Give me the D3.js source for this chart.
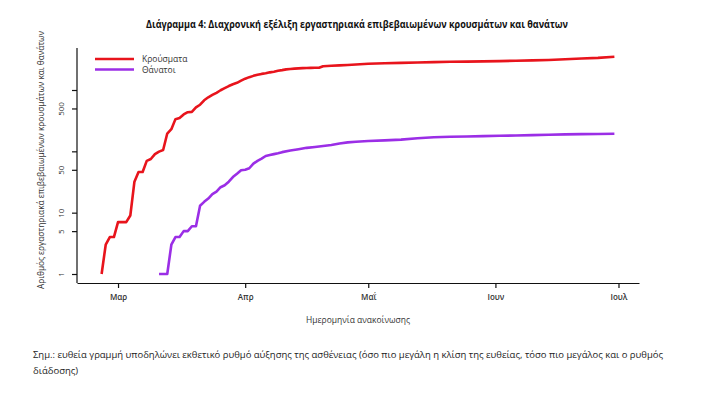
<!DOCTYPE html>
<html><head><meta charset="utf-8">
<script src="https://cdn.jsdelivr.net/npm/d3@7"></script>
<style>
body{margin:0;background:#fff}
svg{display:block}
text{font-family:"Open Sans","DejaVu Sans",sans-serif;fill:#222}
</style>
</head><body>
<svg id="c" width="712" height="394"></svg>
<script>
// ---- data ----
const caseDates = ["2020-02-26","2020-02-27","2020-02-28","2020-02-29","2020-03-01","2020-03-02","2020-03-03","2020-03-04","2020-03-05","2020-03-06","2020-03-07","2020-03-08","2020-03-09","2020-03-10","2020-03-11","2020-03-12","2020-03-13","2020-03-14","2020-03-15","2020-03-16","2020-03-17","2020-03-18","2020-03-19","2020-03-20","2020-03-21","2020-03-22","2020-03-23","2020-03-24","2020-03-25","2020-03-26","2020-03-27","2020-03-28","2020-03-29","2020-03-30","2020-03-31","2020-04-01","2020-04-02","2020-04-03","2020-04-04","2020-04-05","2020-04-06","2020-04-07","2020-04-08","2020-04-09","2020-04-10","2020-04-11","2020-04-12","2020-04-13","2020-04-14","2020-04-15","2020-04-16","2020-04-17","2020-04-18","2020-04-19","2020-04-20","2020-04-22","2020-04-24","2020-04-26","2020-04-28","2020-05-01","2020-05-05","2020-05-09","2020-05-13","2020-05-17","2020-05-21","2020-05-25","2020-05-29","2020-06-02","2020-06-06","2020-06-10","2020-06-14","2020-06-18","2020-06-22","2020-06-26","2020-06-30"];
const caseValues = [1,3,4,4,7,7,7,9,32,46,46,70,75,90,99,105,195,230,335,350,400,435,440,520,575,680,760,830,900,990,1070,1160,1240,1310,1420,1530,1620,1700,1770,1830,1870,1940,1990,2060,2110,2170,2200,2230,2250,2270,2285,2295,2300,2305,2440,2480,2520,2560,2610,2680,2730,2770,2810,2850,2880,2900,2930,2960,3000,3040,3090,3180,3260,3340,3480];
const deathDates = ["2020-03-11","2020-03-12","2020-03-13","2020-03-14","2020-03-15","2020-03-16","2020-03-17","2020-03-18","2020-03-19","2020-03-20","2020-03-21","2020-03-22","2020-03-23","2020-03-24","2020-03-25","2020-03-26","2020-03-27","2020-03-28","2020-03-29","2020-03-30","2020-03-31","2020-04-01","2020-04-02","2020-04-03","2020-04-04","2020-04-05","2020-04-06","2020-04-07","2020-04-08","2020-04-09","2020-04-10","2020-04-12","2020-04-14","2020-04-16","2020-04-18","2020-04-20","2020-04-22","2020-04-24","2020-04-26","2020-04-28","2020-05-01","2020-05-05","2020-05-09","2020-05-13","2020-05-17","2020-05-21","2020-05-25","2020-05-29","2020-06-02","2020-06-06","2020-06-10","2020-06-14","2020-06-18","2020-06-22","2020-06-26","2020-06-30"];
const deathValues = [1,1,1,3,4,4,5,5,6,6,13,15,17,20,22,26,28,32,38,43,49,50,53,63,70,76,84,87,90,93,97,103,108,114,118,122,127,134,140,143,147,151,155,163,170,173,175,177,179,181,184,186,189,191,192,194];
const monthTicks = ["2020-03-01","2020-04-01","2020-05-01","2020-06-01","2020-07-01"];
const monthLabels = ["Μαρ","Απρ","Μαΐ","Ιουν","Ιουλ"];
const yTicks = [1,5,10,50,100,500,1000];
const yTickLabels = ["1","5","10","50","","500",""];
const seriesNames = ["Κρούσματα","Θάνατοι"];
const seriesColors = ["#e8141c","#9b2ee6"];
const titleText = "Διάγραμμα 4: Διαχρονική εξέλιξη εργαστηριακά επιβεβαιωμένων κρουσμάτων και θανάτων";
const xTitle = "Ημερομηνία ανακοίνωσης";
const yTitle = "Αριθμός εργαστηριακά επιβεβαιωμένων κρουσμάτων και θανάτων";
const noteLines = ["Σημ.: ευθεία γραμμή υποδηλώνει εκθετικό ρυθμό αύξησης της ασθένειας (όσο πιο μεγάλη η κλίση της ευθείας, τόσο πιο μεγάλος και ο ρυθμός","διάδοσης)"];

const parse = d3.utcParse("%Y-%m-%d");
const svg = d3.select("#c");

const x = d3.scaleUtc().domain([parse("2020-02-20"), parse("2020-07-06")]).range([77, 639]);
const y = d3.scaleLog().domain([1, 1000]).range([274, 90]);
const plotTop = 48, plotBottom = 283;

// title
svg.append("text").attr("x", 357).attr("y", 28).attr("text-anchor", "middle")
  .attr("font-size", 10.5).attr("font-weight", "bold").attr("textLength", 422).attr("lengthAdjust", "spacingAndGlyphs")
  .style("fill", "#111").text(titleText);

// x axis
const xAxis = d3.axisBottom(x).tickValues(monthTicks.map(parse)).tickSize(5).tickSizeOuter(0)
  .tickFormat((d, i) => monthLabels[i]);
const gx = svg.append("g").attr("transform", `translate(0,${plotBottom})`).call(xAxis);
gx.select(".domain").attr("stroke", "#111").attr("stroke-width", 1.2);
gx.selectAll(".tick line").attr("stroke", "#111").attr("stroke-width", 1.2);
gx.selectAll(".tick text").attr("font-size", 8).attr("dy", 0).attr("y", 17).style("font-weight", 600).style("fill", "#333");

// y axis
const yAxis = d3.axisLeft(y).tickValues(yTicks).tickSize(5).tickFormat((d, i) => yTickLabels[i]);
const gy = svg.append("g").attr("transform", "translate(77,0)").call(yAxis);
gy.select(".domain").remove();
gy.append("line").attr("x1", 0).attr("x2", 0).attr("y1", plotTop).attr("y2", plotBottom)
  .attr("stroke", "#111").attr("stroke-width", 1.2);
gy.selectAll(".tick line").attr("stroke", "#111").attr("stroke-width", 1.2);
gy.selectAll(".tick text").attr("transform", "rotate(-90)").attr("x", 0).attr("y", -13).attr("dy", 0)
  .attr("text-anchor", "middle").attr("font-size", 8).style("fill", "#333");

// axis titles
svg.append("text").attr("x", 358).attr("y", 323).attr("text-anchor", "middle").attr("font-size", 8.5)
  .attr("textLength", 104).attr("lengthAdjust", "spacingAndGlyphs").style("fill", "#333").text(xTitle);
svg.append("text").attr("transform", "translate(44,160) rotate(-90)").attr("text-anchor", "middle")
  .attr("font-size", 8.5).attr("textLength", 258).attr("lengthAdjust", "spacingAndGlyphs").style("fill", "#333").text(yTitle);

// lines
const line = d3.line().x(d => x(d[0])).y(d => y(d[1]));
const series = [
  caseDates.map((d, i) => [parse(d), caseValues[i]]),
  deathDates.map((d, i) => [parse(d), deathValues[i]])
];
series.forEach((s, i) => {
  svg.append("path").datum(s).attr("d", line).attr("fill", "none")
    .attr("stroke", seriesColors[i]).attr("stroke-width", 2.6).attr("stroke-linejoin", "round");
});

// legend
seriesNames.forEach((n, i) => {
  const ly = 59 + i * 10.5;
  svg.append("line").attr("x1", 95).attr("x2", 134).attr("y1", ly).attr("y2", ly)
    .attr("stroke", seriesColors[i]).attr("stroke-width", 2.6);
  svg.append("text").attr("x", 142).attr("y", ly + 3).attr("font-size", 8.5).style("fill", "#333").text(n);
});

// note
noteLines.forEach((t, i) => {
  const el = svg.append("text").attr("x", 33).attr("y", 358 + i * 16).attr("font-size", 9.5).style("fill", "#222").text(t);
  if (i === 0) el.attr("textLength", 630).attr("lengthAdjust", "spacingAndGlyphs");
});
</script>
</body></html>
